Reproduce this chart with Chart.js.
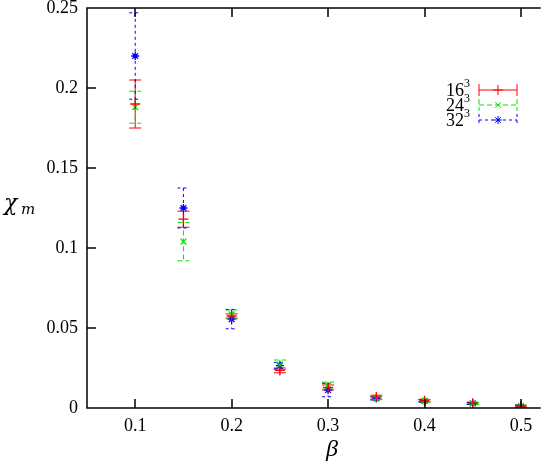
<!DOCTYPE html>
<html>
<head>
<meta charset="utf-8">
<script src="https://cdn.jsdelivr.net/npm/chart.js@4.4.0/dist/chart.umd.min.js"></script>
<style>
html, body { margin: 0; padding: 0; background: #fff; overflow: hidden; }
</style>
</head>
<body>
<canvas id="chart" width="545" height="464"></canvas>
<script>
// beta values and susceptibility for each lattice size
const betas = [0.1, 0.15, 0.2, 0.25, 0.3, 0.35, 0.4, 0.45, 0.5];
const chi16 = [0.190, 0.118, 0.0575, 0.0235, 0.0128, 0.0068, 0.0046, 0.0030, 0.0012];
const err16 = [0.015, 0.005, 0.0013, 0.0015, 0.0016, 0.0012, 0.0008, 0.0006, 0.0006];
const chi24 = [0.188, 0.104, 0.0585, 0.027, 0.0140, 0.0062, 0.0045, 0.0028, 0.0011];
const err24 = [0.010, 0.012, 0.0028, 0.003, 0.0022, 0.0010, 0.0008, 0.0006, 0.0006];
const chi32 = [0.220, 0.125, 0.0555, 0.0265, 0.0112, 0.0060, 0.0044, 0.0029, 0.0010];
const err32 = [0.027, 0.0125, 0.006, 0.002, 0.0042, 0.0010, 0.0007, 0.0006, 0.0008];
const latticeSizes = ['16', '24', '32'];
const xTicks = [0.1, 0.2, 0.3, 0.4, 0.5];
const yTicks = [0, 0.05, 0.1, 0.15, 0.2, 0.25];

const serif = '"Liberation Serif", "DejaVu Serif", serif';

function toPoints(ys) {
    return betas.map((b, i) => ({ x: b, y: ys[i] }));
}

const series = [
    { name: latticeSizes[0], values: chi16, errors: err16, color: 'rgb(255,0,0)', style: 'cross', radius: 5, dash: [] },
    { name: latticeSizes[1], values: chi24, errors: err24, color: 'rgb(0,230,0)', style: 'crossRot', radius: 4, dash: [5, 3] },
    { name: latticeSizes[2], values: chi32, errors: err32, color: 'rgb(0,0,255)', style: 'star', radius: 4, dash: [3, 3] },
];

// error bars, drawn under the points
const errorBars = {
    id: 'errorBars',
    beforeDatasetsDraw(chart) {
        const { ctx, chartArea, scales: { x, y } } = chart;
        ctx.save();
        ctx.beginPath();
        ctx.rect(chartArea.left, chartArea.top, chartArea.right - chartArea.left, chartArea.bottom - chartArea.top);
        ctx.clip();
        series.forEach(s => {
            ctx.strokeStyle = s.color;
            ctx.lineWidth = 1;
            ctx.setLineDash(s.dash);
            s.values.forEach((v, i) => {
                const px = x.getPixelForValue(betas[i]);
                const top = y.getPixelForValue(v + s.errors[i]);
                const bot = y.getPixelForValue(v - s.errors[i]);
                ctx.beginPath();
                ctx.moveTo(px, top); ctx.lineTo(px, bot);
                ctx.moveTo(px - 6, top); ctx.lineTo(px + 6, top);
                ctx.moveTo(px - 6, bot); ctx.lineTo(px + 6, bot);
                ctx.stroke();
            });
        });
        ctx.restore();
    }
};

// gnuplot style frame, inward ticks, axis titles and key
const frame = {
    id: 'frame',
    afterDraw(chart) {
        const { ctx, chartArea: a, scales: { x, y } } = chart;
        ctx.save();
        ctx.strokeStyle = '#000';
        ctx.lineWidth = 1.5;
        ctx.setLineDash([]);
        ctx.beginPath();
        ctx.moveTo(a.right + 2, a.top); ctx.lineTo(a.left, a.top);
        ctx.lineTo(a.left, a.bottom); ctx.lineTo(a.right + 2, a.bottom);
        xTicks.forEach(t => {
            const px = Math.round(x.getPixelForValue(t));
            ctx.moveTo(px, a.bottom); ctx.lineTo(px, a.bottom - 9);
            ctx.moveTo(px, a.top); ctx.lineTo(px, a.top + 9);
        });
        yTicks.forEach(t => {
            const py = Math.round(y.getPixelForValue(t));
            ctx.moveTo(a.left, py); ctx.lineTo(a.left + 9, py);
        });
        ctx.stroke();

        // axis titles
        ctx.fillStyle = '#000';
        ctx.textBaseline = 'alphabetic';
        ctx.textAlign = 'left';
        ctx.font = 'italic 22px "DejaVu Serif", serif';
        ctx.fillText('χ', 4, 210);
        ctx.font = 'italic 15px "DejaVu Serif", serif';
        ctx.fillText('m', 21, 214);
        ctx.textAlign = 'center';
        ctx.font = 'italic 24px ' + serif;
        ctx.fillText('β', 332, 456);

        // key
        const keyX = 470, lineL = 479, lineR = 517;
        series.forEach((s, i) => {
            const ky = 90 + i * 15;
            ctx.fillStyle = '#000';
            ctx.textAlign = 'right';
            ctx.font = '12px ' + serif;
            const supW = ctx.measureText('3').width;
            ctx.fillText('3', keyX, ky - 3);
            ctx.font = '18px ' + serif;
            ctx.fillText(s.name, keyX - supW, ky + 6);

            ctx.strokeStyle = s.color;
            ctx.lineWidth = 1;
            ctx.setLineDash(s.dash);
            ctx.beginPath();
            ctx.moveTo(lineL, ky); ctx.lineTo(lineR, ky);
            ctx.moveTo(lineL, ky - 6); ctx.lineTo(lineL, ky + 6);
            ctx.moveTo(lineR, ky - 6); ctx.lineTo(lineR, ky + 6);
            ctx.stroke();
            ctx.setLineDash([]);
            Chart.helpers.drawPoint(ctx, {
                pointStyle: s.style, radius: s.radius, borderWidth: 1.3, rotation: 0
            }, (lineL + lineR) / 2, ky);
        });
        ctx.restore();
    }
};

const ctx = document.getElementById('chart').getContext('2d');
new Chart(ctx, {
    type: 'scatter',
    data: {
        datasets: series.map(s => ({
            label: s.name + '³',
            data: toPoints(s.values),
            pointStyle: s.style,
            pointRadius: s.radius,
            pointBorderWidth: 1.3,
            borderColor: s.color,
            backgroundColor: s.color,
            showLine: false,
        }))
    },
    options: {
        responsive: false,
        animation: false,
        layout: { padding: { top: 8, left: 0, right: 0, bottom: 0 } },
        plugins: { legend: { display: false }, tooltip: { enabled: false } },
        scales: {
            x: {
                type: 'linear',
                min: 0.05,
                max: 0.5184,
                grid: { display: false, drawTicks: false },
                border: { display: false },
                afterBuildTicks: s => { s.ticks = xTicks.map(v => ({ value: v })); },
                afterFit: s => { s.height = 56; s.paddingLeft = 0; s.paddingRight = 0; },
                ticks: {
                    padding: 7,
                    color: '#000',
                    font: { family: serif, size: 18 },
                    maxRotation: 0,
                    callback: v => String(+v.toFixed(2))
                }
            },
            y: {
                type: 'linear',
                min: 0,
                max: 0.25,
                grid: { display: false, drawTicks: false },
                border: { display: false },
                afterBuildTicks: s => { s.ticks = yTicks.map(v => ({ value: v })); },
                afterFit: s => { s.width = 87; s.paddingTop = 0; s.paddingBottom = 0; },
                ticks: {
                    padding: 9,
                    color: '#000',
                    font: { family: serif, size: 18 },
                    callback: v => String(+v.toFixed(2))
                }
            }
        }
    },
    plugins: [errorBars, frame]
});
</script>
</body>
</html>
